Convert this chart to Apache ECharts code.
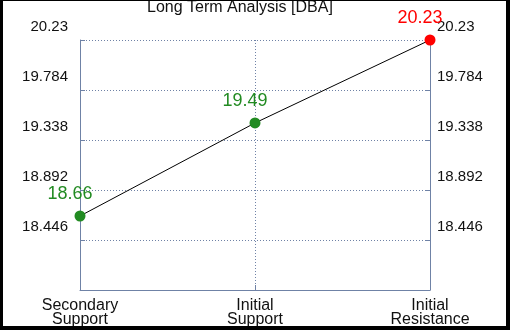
<!DOCTYPE html>
<html>
<head>
<meta charset="utf-8">
<script src="https://cdn.jsdelivr.net/npm/echarts@6/dist/echarts.min.js"></script>
<style>
html,body{margin:0;padding:0;background:#fff;}
#wrap{position:relative;width:510px;height:330px;}
#chart{position:absolute;left:0;top:0;width:510px;height:330px;}
#frame{position:absolute;left:0;top:0;width:510px;height:330px;box-sizing:border-box;
border-style:solid;border-color:#000;border-width:1px 4px 4px 3px;pointer-events:none;}
</style>
</head>
<body>
<div id="wrap"><div id="chart"></div><div id="frame"></div></div>
<script>
const titleText = 'Long Term Analysis [DBA]';
const categories = ['Secondary\nSupport', 'Initial\nSupport', 'Initial\nResistance'];
const values = [18.66, 19.49, 20.23];
const yMin = 18.0;
const yMax = 20.23;
const yStep = 0.446;

const pointColors = ['#228b22', '#228b22', '#ff0000'];
const axisColor = '#6f82a6';
const font = 'Arial, "Liberation Sans", sans-serif';

const chart = echarts.init(document.getElementById('chart'), null, {renderer: 'canvas'});
const fmt = v => String(+(+v).toFixed(3));

const yCommon = {
  type: 'value', min: yMin, max: yMax, interval: yStep,
  axisLine: {show: true, lineStyle: {color: axisColor, width: 1}},
  axisTick: {show: true, inside: true, length: 5, lineStyle: {color: axisColor}},
  splitLine: {show: true, lineStyle: {color: axisColor, type: [1, 2], width: 1}},
  axisLabel: {
    showMinLabel: false, formatter: fmt, color: '#111', fontFamily: font, fontSize: 15,
    verticalAlign: 'bottom', lineHeight: 15, padding: [0, 0, 6, 0]
  }
};

chart.setOption({
  animation: false,
  backgroundColor: '#fff',
  title: {
    text: titleText, left: 147, top: 0, padding: 0,
    textStyle: {fontFamily: font, fontSize: 16, fontWeight: 'normal', color: '#111', lineHeight: 16}
  },
  grid: {left: 80, right: 80, top: 40, bottom: 40, containLabel: false},
  xAxis: {
    type: 'category', data: categories, boundaryGap: false,
    axisLine: {show: true, lineStyle: {color: axisColor, width: 1}},
    axisTick: {show: true, inside: true, length: 5, alignWithLabel: true, lineStyle: {color: axisColor}},
    splitLine: {show: true, lineStyle: {color: axisColor, type: [1, 2], width: 1}},
    axisLabel: {color: '#111', fontFamily: font, fontSize: 16, lineHeight: 14, margin: 9, interval: 0}
  },
  yAxis: [
    Object.assign({}, yCommon, {position: 'left', axisLabel: Object.assign({}, yCommon.axisLabel, {margin: 12})}),
    Object.assign({}, yCommon, {position: 'right', splitLine: {show: false}, axisLabel: Object.assign({}, yCommon.axisLabel, {margin: 7})})
  ],
  series: [{
    type: 'line',
    yAxisIndex: 0,
    data: values.map((v, i) => ({
      value: v,
      itemStyle: {color: pointColors[i]},
      label: {color: pointColors[i]}
    })),
    symbol: 'circle', symbolSize: 11,
    lineStyle: {color: '#000', width: 1},
    label: {show: true, position: 'top', distance: 7, offset: [-10, 0], fontFamily: font, fontSize: 18, formatter: p => fmt(p.value)},
    z: 5
  }]
});
</script>
</body>
</html>
